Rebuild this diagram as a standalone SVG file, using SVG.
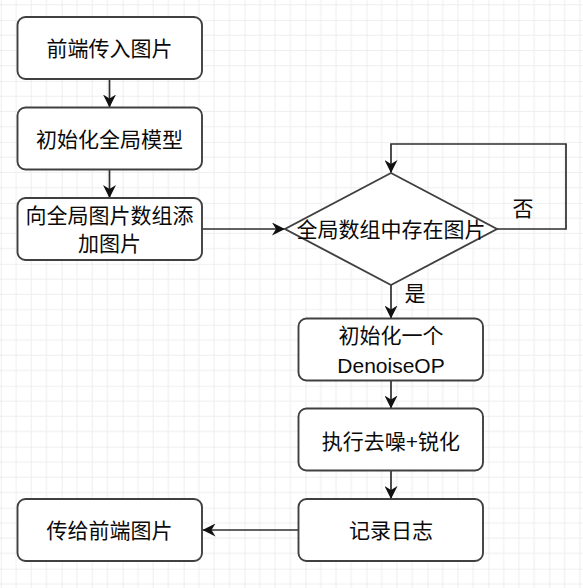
<svg xmlns="http://www.w3.org/2000/svg" width="583" height="588" viewBox="0 0 583 588">
<style>
.box{fill:#ffffff;stroke:#404040;stroke-width:1.9}
.t{font-family:"Liberation Sans","Noto Sans CJK SC",sans-serif;font-size:21px;fill:#0a0a0a;text-anchor:middle;dominant-baseline:central}
.c{fill:none;stroke:#2e2e2e;stroke-width:1.7}
.minor{stroke:#eeeeee;stroke-width:1}
.major{stroke:#e2e2e2;stroke-width:1.2}
</style>
<defs>
<pattern id="grid" patternUnits="userSpaceOnUse" x="0.74" y="20" width="60.96" height="60.96">
<path class="minor" d="M15.24,0V60.96M30.48,0V60.96M45.72,0V60.96M0,15.24H60.96M0,30.48H60.96M0,45.72H60.96"/>
<path class="major" d="M0,0V60.96M0,0H60.96"/>
</pattern>
<marker id="arr" markerUnits="userSpaceOnUse" viewBox="0 0 13 13" refX="12.5" refY="6.5" markerWidth="13" markerHeight="13" orient="auto">
<path d="M0,0 L13,6.5 L0,13 L4,6.5 Z" fill="#111111"/>
</marker>
</defs>
<rect width="583" height="588" fill="#ffffff"/>
<rect width="583" height="588" fill="url(#grid)"/>
<g id="connectors">
<path class="c" d="M109.5,79V107" marker-end="url(#arr)"/>
<path class="c" d="M109.5,169V197.5" marker-end="url(#arr)"/>
<path class="c" d="M202,229H284.5" marker-end="url(#arr)"/>
<path class="c" d="M497,229H566V144H391V172.5" marker-end="url(#arr)"/>
<path class="c" d="M391,285V318" marker-end="url(#arr)"/>
<path class="c" d="M391,380.5V408" marker-end="url(#arr)"/>
<path class="c" d="M391,470V498.5" marker-end="url(#arr)"/>
<path class="c" d="M298.5,530H203" marker-end="url(#arr)"/>
<text class="t" x="523" y="208">否</text>
<text class="t" x="415" y="293">是</text>
</g>
<g id="n1"><rect class="box" x="17.5" y="17" width="184.5" height="62" rx="8"/><text class="t" x="109.5" y="48">前端传入图片</text></g>
<g id="n2"><rect class="box" x="17.5" y="107.5" width="184.5" height="62" rx="8"/><text class="t" x="109.5" y="139">初始化全局模型</text></g>
<g id="n3"><rect class="box" x="17.5" y="198" width="184.5" height="62" rx="8"/><text class="t" x="109.5" y="215">向全局图片数组添</text><text class="t" x="109.5" y="243">加图片</text></g>
<g id="n4"><polygon class="box" points="391,173 497,229 391,285 285,229"/><text class="t" x="391" y="229">全局数组中存在图片</text></g>
<g id="n5"><rect class="box" x="298.5" y="318.5" width="184.5" height="62" rx="8"/><text class="t" x="391" y="335">初始化一个</text><text class="t" x="391" y="365">DenoiseOP</text></g>
<g id="n6"><rect class="box" x="298.5" y="408.5" width="184.5" height="62" rx="8"/><text class="t" x="391" y="441">执行去噪+锐化</text></g>
<g id="n7"><rect class="box" x="298.5" y="499" width="184.5" height="62" rx="8"/><text class="t" x="391" y="530">记录日志</text></g>
<g id="n8"><rect class="box" x="17.5" y="499" width="184.5" height="62" rx="8"/><text class="t" x="109.5" y="530">传给前端图片</text></g>
</svg>
